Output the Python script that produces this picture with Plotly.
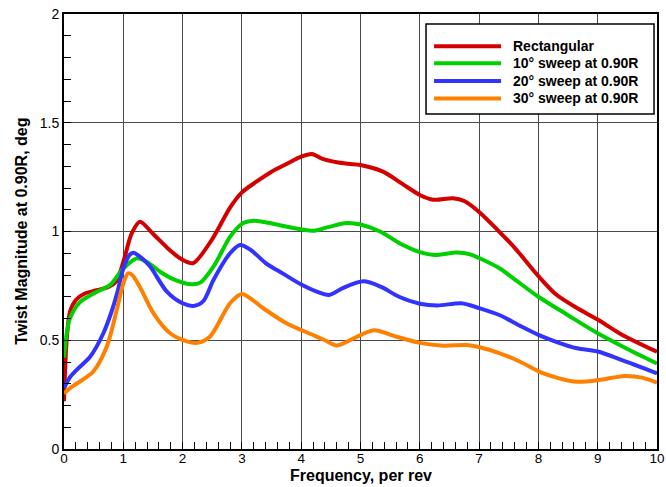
import plotly.graph_objects as go

# ---- data ----
rect_f = [0, 0.04, 0.1, 0.2, 0.35, 0.55, 0.75, 0.88, 1.0, 1.14, 1.28, 1.5, 1.8, 2.0, 2.18,
          2.5, 2.8, 3.0, 3.25, 3.5, 3.75, 4.0, 4.18, 4.35, 4.6, 4.8, 5.0, 5.38, 5.7,
          6.0, 6.23, 6.56, 6.75, 7.0, 7.3, 7.6, 8.0, 8.3, 8.65, 9.0, 9.4, 10.0]
rect_v = [0.22, 0.48, 0.63, 0.685, 0.715, 0.73, 0.745, 0.77, 0.86, 0.99, 1.045, 0.99, 0.91,
          0.87, 0.855, 0.965, 1.11, 1.18, 1.23, 1.275, 1.31, 1.344, 1.356, 1.335, 1.318,
          1.311, 1.306, 1.275, 1.22, 1.168, 1.146, 1.153, 1.14, 1.09, 1.01, 0.925, 0.795, 0.71,
          0.648, 0.595, 0.527, 0.447]

sw10_f = [0, 0.04, 0.1, 0.27, 0.5, 0.78, 1.0, 1.23, 1.4, 1.62, 1.85, 2.15, 2.3, 2.52, 2.8,
          3.0, 3.2, 3.45, 3.7, 4.0, 4.2, 4.45, 4.77, 5.0, 5.33, 5.7, 6.0, 6.25, 6.62, 6.85,
          7.0, 7.35, 7.6, 8.0, 8.5, 9.0, 9.5, 10.0]
sw10_v = [0.42, 0.52, 0.6, 0.675, 0.715, 0.755, 0.83, 0.877, 0.86, 0.815, 0.78, 0.757, 0.765,
          0.838, 0.975, 1.035, 1.049, 1.04, 1.025, 1.01, 1.003, 1.02, 1.039, 1.032, 1.0, 0.94,
          0.905, 0.892, 0.903, 0.895, 0.878, 0.83, 0.78, 0.70, 0.615, 0.532, 0.46, 0.393]

sw20_f = [0, 0.1, 0.21, 0.44, 0.66, 0.8, 0.9, 1.0, 1.1, 1.17, 1.3, 1.45, 1.73, 2.0, 2.18,
          2.35, 2.52, 2.8, 2.97, 3.15, 3.4, 3.7, 4.0, 4.25, 4.47, 4.7, 5.05, 5.35, 5.65, 6.0,
          6.3, 6.7, 7.0, 7.35, 7.7, 8.0, 8.3, 8.65, 9.0, 9.4, 10.0]
sw20_v = [0.28, 0.33, 0.363, 0.424, 0.53, 0.63, 0.72, 0.83, 0.89, 0.902, 0.88, 0.84, 0.725,
          0.67, 0.658, 0.68, 0.777, 0.9, 0.938, 0.915, 0.855, 0.805, 0.756, 0.725, 0.708, 0.74,
          0.771, 0.745, 0.70, 0.668, 0.66, 0.67, 0.648, 0.615, 0.565, 0.525, 0.493, 0.463,
          0.448, 0.41, 0.348]

sw30_f = [0, 0.1, 0.21, 0.49, 0.72, 0.89, 1.0, 1.08, 1.15, 1.28, 1.51, 1.79, 2.07, 2.25,
          2.46, 2.8, 3.0, 3.36, 3.75, 4.2, 4.4, 4.6, 5.0, 5.23, 5.61, 6.0, 6.4, 6.79, 7.01,
          7.35, 7.7, 8.02, 8.35, 8.65, 9.02, 9.45, 9.75, 10.0]
sw30_v = [0.255, 0.28, 0.3, 0.355, 0.47, 0.64, 0.76, 0.808, 0.8, 0.745, 0.624, 0.532, 0.495,
          0.488, 0.516, 0.67, 0.713, 0.647, 0.578, 0.524, 0.5, 0.476, 0.524, 0.546, 0.516,
          0.488, 0.475, 0.478, 0.468, 0.44, 0.4, 0.355, 0.325, 0.309, 0.317, 0.336, 0.328,
          0.305]

series_names = ["Rectangular", "10\u00b0 sweep at 0.90R", "20\u00b0 sweep at 0.90R",
                "30\u00b0 sweep at 0.90R"]
series_colors = ["#D40000", "#00D000", "#3333FF", "#FF8000"]
series_f = [rect_f, sw10_f, sw20_f, sw30_f]
series_v = [rect_v, sw10_v, sw20_v, sw30_v]

x_ticks = list(range(0, 11))
y_ticks = [0, 0.5, 1, 1.5, 2]

FONT = "Liberation Sans, Arial, sans-serif"

fig = go.Figure()
for f, v, c, n in zip(series_f, series_v, series_colors, series_names):
    fig.add_trace(go.Scatter(x=f, y=v, mode="lines", name=n,
                             line=dict(color=c, width=4, shape="spline", smoothing=0.8),
                             showlegend=False, hoverinfo="skip"))

# manual legend (box, sample lines, labels) in paper coordinates
shapes = [dict(type="rect", xref="paper", yref="paper", x0=0.6105, x1=0.995, y0=0.770,
               y1=0.977, line=dict(color="black", width=1.5), fillcolor="white", layer="above")]
annotations = []
rows = [0.926, 0.887, 0.846, 0.806]
for yy, c, n in zip(rows, series_colors, series_names):
    shapes.append(dict(type="line", xref="paper", yref="paper", x0=0.624, x1=0.737, y0=yy,
                       y1=yy, line=dict(color=c, width=4), layer="above"))
    annotations.append(dict(xref="paper", yref="paper", x=0.754, y=yy, xanchor="left",
                            yanchor="middle", text="<b>%s</b>" % n, showarrow=False,
                            font=dict(family=FONT, size=14, color="black")))

# axis titles as annotations (keeps plot area fixed)
annotations.append(dict(xref="paper", yref="paper", x=0.5, y=-0.061, xanchor="center",
                        yanchor="middle", text="<b>Frequency, per rev</b>", showarrow=False,
                        font=dict(family=FONT, size=16, color="black")))
annotations.append(dict(xref="paper", yref="paper", x=-0.072, y=0.5, xanchor="center",
                        yanchor="middle", textangle=-90,
                        text="<b>Twist Magnitude at 0.90R, deg</b>", showarrow=False,
                        font=dict(family=FONT, size=16, color="black")))

fig.update_layout(
    width=666, height=487,
    margin=dict(l=64, r=9, t=14, b=38, pad=0, autoexpand=False),
    paper_bgcolor="white", plot_bgcolor="white",
    font=dict(family=FONT, size=14, color="black"),
    shapes=shapes, annotations=annotations,
    showlegend=False, hovermode=False,
)
fig.update_xaxes(
    range=[0, 10], tickvals=x_ticks, ticktext=[str(t) for t in x_ticks],
    showgrid=True, gridcolor="#4a4a4a", gridwidth=1, zeroline=False,
    showline=True, linecolor="black", linewidth=2, mirror=True,
    ticks="inside", ticklen=7, tickcolor="black", tickwidth=1,
    minor=dict(dtick=0.2, ticks="inside", ticklen=7, tickcolor="black", tickwidth=1,
               showgrid=False),
    tickfont=dict(size=13.5), automargin=False, ticklabelstandoff=-4,
)
fig.update_yaxes(
    range=[0, 2], tickvals=y_ticks, ticktext=["0", "0.5", "1", "1.5", "2"],
    showgrid=True, gridcolor="#4a4a4a", gridwidth=1, zeroline=False,
    showline=True, linecolor="black", linewidth=2, mirror=True,
    ticks="inside", ticklen=7, tickcolor="black", tickwidth=1,
    minor=dict(dtick=0.1, ticks="inside", ticklen=7, tickcolor="black", tickwidth=1,
               showgrid=False),
    tickfont=dict(size=14), automargin=False,
)

# remove the default 8px page margin so the figure fills the window exactly
fig.write_html("out.html",
               config={"displayModeBar": False, "staticPlot": True},
               post_script="document.body.style.margin='0px';"
                           "document.body.style.overflow='hidden';")
